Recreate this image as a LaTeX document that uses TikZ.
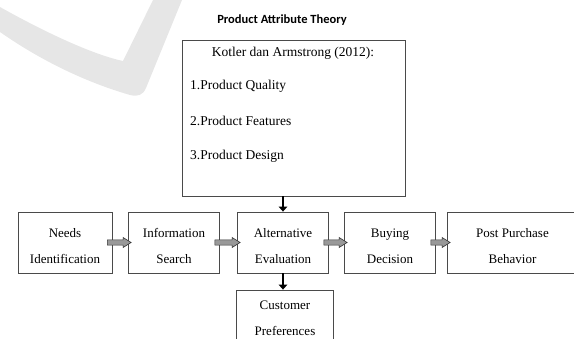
\documentclass[tikz,border=0pt]{standalone}
\usepackage{fontspec}
\setmainfont{Liberation Serif}
\newfontfamily\titlefont{Carlito}
\usetikzlibrary{shapes,arrows.meta,calc}
\definecolor{markgray}{HTML}{E6E6E6}
\definecolor{edgegray}{HTML}{4A4A4A}
\tikzstyle{stage} = [draw=edgegray, line width=0.8pt, rectangle, align=center, minimum width=91pt, minimum height=61pt, font=\fontsize{13}{26}\selectfont]
\tikzstyle{row} = [stage, text height=43pt]
\tikzstyle{theory} = [draw=edgegray, line width=0.8pt, rectangle, minimum width=223pt, minimum height=156pt]
\tikzstyle{item} = [anchor=west, inner sep=0pt, font=\fontsize{13.5}{16}\selectfont]
\tikzstyle{heavy} = [draw, line width=2.6pt, -{Triangle[length=5pt,width=8.5pt]}]
\tikzstyle{fat} = [draw=black!80, line width=0.6pt, fill=black!40,
  to path={let \p1=(\tikztostart), \p2=(\tikztotarget) in
    (\x1,\y1+2.6pt) -- (\x2-8pt,\y1+2.6pt) -- (\x2-8pt,\y1+5pt) -- (\x2,\y1)
    -- (\x2-8pt,\y1-5pt) -- (\x2-8pt,\y1-2.6pt) -- (\x1,\y1-2.6pt) -- cycle}]

\begin{document}
\begin{tikzpicture}[x=1pt, y=-1pt, node distance=109pt]
        \useasboundingbox (0,0) rectangle (574,338);
        % watermark
        \fill[markgray] (0,7) .. controls (50,35) and (95,55) .. (123,61) -- (153,0) -- (182,0)
            -- (146,88) .. controls (143,95) and (138,97) .. (130,95)
            .. controls (85,82) and (40,60) .. (0,32) -- cycle;
        \node[font=\titlefont\bfseries\fontsize{12.5}{15}\selectfont] (title) at (282,20) {Product Attribute Theory};
        \node[theory] (attr) at (293.5,118) {};
        \node[item, anchor=center] (kotler) at (293,53) {Kotler dan Armstrong (2012):};
        \node[item] (quality) at (190,86) {1.Product Quality};
        \node[item] (features) at (190,121) {2.Product Features};
        \node[item] (design) at (190,156) {3.Product Design};
        \node[row, minimum width=94pt] (needs) at (65,242.5) {Needs\\Identification};
        \node[row, right of=needs] (search) {Information\\Search};
        \node[row, right of=search] (alt) {Alternative\\Evaluation};
        \node[row, right of=alt, node distance=107pt] (buying) {Buying\\Decision};
        \node[row, minimum width=130pt, right of=buying, node distance=122.5pt] (post) {Post Purchase\\Behavior};
        \node[stage, text depth=5pt, minimum width=97pt, below of=alt, node distance=78pt, xshift=2pt] (pref) {Customer\\Preferences};
        \path[heavy] (attr.south -| alt.north) -- (alt.north);
        \path[heavy] (alt.south) -- (alt.south |- pref.north);
        \path[fat] ([xshift=-5pt]needs.east) to ([xshift=3pt]search.west);
        \path[fat] ([xshift=-5pt]search.east) to ([xshift=3pt]alt.west);
        \path[fat] ([xshift=-5pt]alt.east) to ([xshift=3pt]buying.west);
        \path[fat] ([xshift=-5pt]buying.east) to ([xshift=3pt]post.west);
    \end{tikzpicture}
\end{document}
